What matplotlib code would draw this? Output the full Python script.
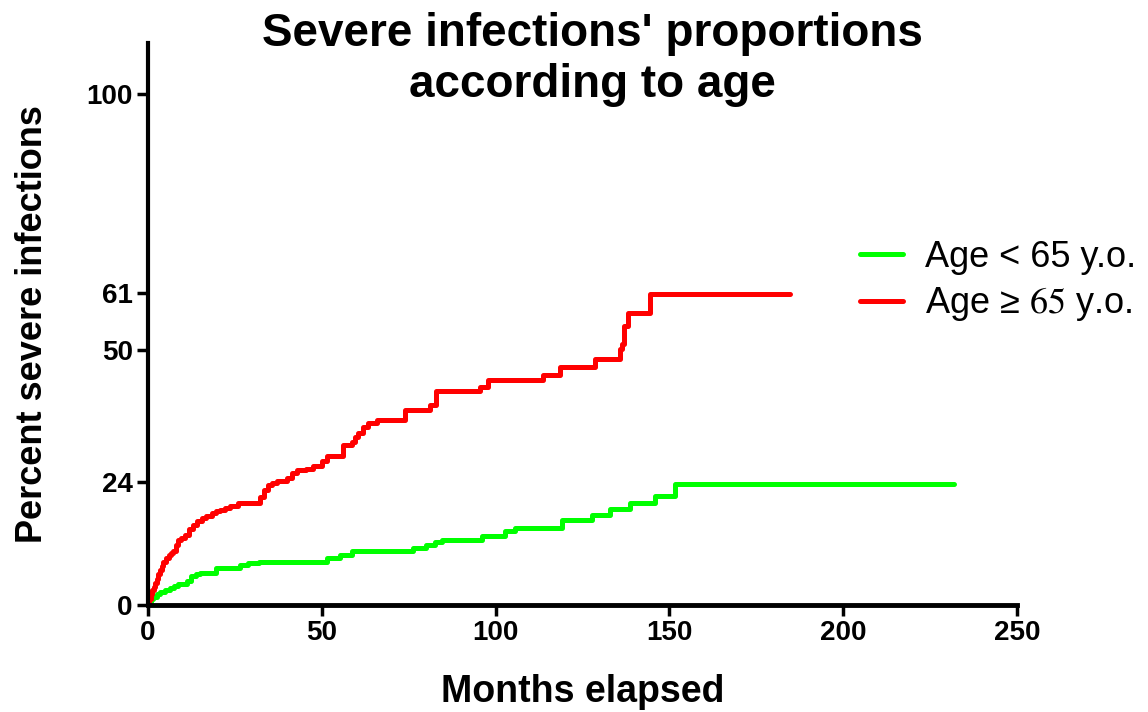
import matplotlib
matplotlib.use('Agg')
import matplotlib.pyplot as plt

plt.rcParams['font.family'] = ['Liberation Sans', 'DejaVu Sans']
plt.rcParams['mathtext.fontset'] = 'stix'

# event times (months) and cumulative percent after each event
young_t = [0, 0.5, 1.0, 1.5, 2.5, 3.5, 5, 6.3, 7.5, 8.7, 11.1, 12.5, 13.8, 15,
           19.7, 26.4, 28.8, 32, 51.4, 55.2, 58.6, 76.3, 80.1, 82.6, 84.5,
           96, 102.7, 105.6, 119, 127.6, 132.9, 138.7, 145.9, 151.6, 232]
young_p = [0, 0.6, 1.1, 1.6, 2.1, 2.6, 3.0, 3.3, 3.8, 4.2, 4.6, 5.6, 6.0, 6.3,
           7.2, 7.8, 8.2, 8.5, 9.1, 9.8, 10.5, 11.1, 11.8, 12.4, 12.7,
           13.5, 14.4, 15.0, 16.7, 17.6, 18.8, 19.9, 21.4, 23.6, 23.6]

old_t = [0, 0.4, 0.8, 1.2, 1.6, 2.1, 2.6, 3.0, 3.5, 4.0, 4.4, 5.2, 6, 6.7, 7.3,
         8.0, 8.7, 9.6, 10.6, 11.8, 13, 14.2, 15.4, 16.8, 18.3, 19.5, 20.7,
         22.2, 23.6, 26, 32.2, 33.5, 34.6, 35.8, 37, 39.9, 41.4, 42.8, 45.6,
         47.5, 50, 51.4, 56.2, 58.6, 59.6, 60.5, 62, 63.4, 65.8, 73.9, 81.1,
         83.0, 95.5, 97.9, 113.7, 118.5, 128.6, 135.8, 136.4, 136.9, 138.2,
         144.4, 184.7]
old_p = [0, 1.2, 2.2, 3.0, 3.6, 4.3, 5.0, 6.0, 6.8, 7.7, 8.5, 9.2, 9.8, 10.2,
         10.5, 11.8, 12.7, 13.2, 13.7, 14.8, 15.7, 16.4, 17, 17.5, 18, 18.3, 18.6,
         19.0, 19.3, 19.9, 21.2, 22.5, 23.5, 23.9, 24.2, 24.8, 25.8, 26.5, 26.6,
         27.3, 28.1, 29.1, 31.4, 32, 32.8, 33.7, 34.8, 35.6, 36.3, 38.2, 39.2,
         41.8, 42.7, 44, 45.1, 46.6, 48.2, 50.2, 51, 54.6, 57.2,
         60.8, 60.8]

yticks = [0, 24, 50, 61, 100]
xticks = [0, 50, 100, 150, 200, 250]

fig = plt.figure(figsize=(11.48, 7.12), dpi=100)
ax = fig.add_axes([0.1289, 0.1503, 0.757, 0.7893])

ax.plot(young_t, young_p, drawstyle='steps-post', color='#00ff00', lw=3.6,
        label='Age < 65 y.o.', solid_capstyle='round', solid_joinstyle='round')
ax.plot(old_t, old_p, drawstyle='steps-post', color='#ff0000', lw=3.6,
        label='Age ≥ $65$ y.o.', solid_capstyle='round', solid_joinstyle='round')

ax.set_xlim(0, 250)
ax.set_ylim(0, 110)
ax.set_xticks(xticks)
ax.set_yticks(yticks)
for s in ['top', 'right']:
    ax.spines[s].set_visible(False)
ax.spines['left'].set_linewidth(3)
ax.spines['bottom'].set_linewidth(3.5)
ax.tick_params(direction='out', length=8, width=2.5, labelsize=20, pad=3)
for lab in ax.get_xticklabels() + ax.get_yticklabels():
    lab.set_fontweight('bold')

ax.set_xlabel('Months elapsed', fontsize=27, fontweight='bold', labelpad=20)
ax.set_ylabel('Percent severe infections', fontsize=26, fontweight='bold', labelpad=26)

fig.text(0.516, 0.983, "Severe infections' proportions\naccording to age",
         ha='center', va='top', fontsize=33, fontweight='bold', linespacing=1.2)

fig.legend(loc='center left', bbox_to_anchor=(0.749, 0.6046), frameon=False,
           fontsize=26, handlelength=1.2, handletextpad=0.6, borderpad=0,
           borderaxespad=0, labelspacing=0.3)

fig.savefig('out.png', dpi=100)
